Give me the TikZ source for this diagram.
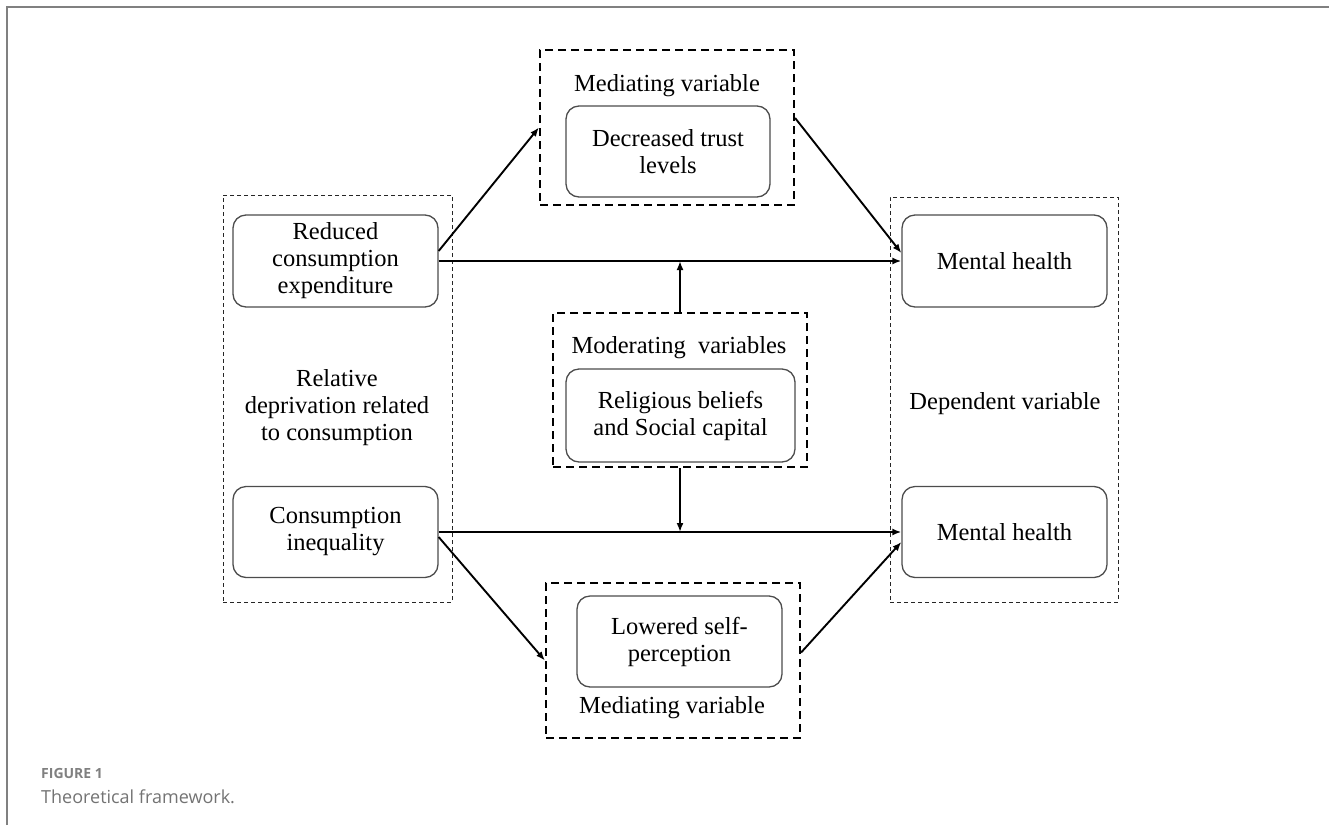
\documentclass[tikz,border=0pt]{standalone}
\usepackage{fontspec}
\setmainfont{Liberation Serif}
\newfontfamily\capfont{Open Sans}
\usetikzlibrary{arrows.meta}
\begin{document}
\begin{tikzpicture}[x=1pt,y=-1pt,
  box/.style={draw=black!70, line width=1.3pt, rounded corners=13pt, align=center, inner sep=0pt, font=\fontsize{24.5}{27}\selectfont},
  grp/.style={draw=black!85, dash pattern=on 4pt off 3pt, line width=1pt, inner sep=0pt},
  med/.style={draw=black, dash pattern=on 8pt off 5pt, line width=2.2pt, inner sep=0pt},
  lbl/.style={align=center, inner sep=0pt, font=\fontsize{24.5}{27}\selectfont},
  arr/.style={-{Latex[length=9pt,width=7pt]}, line width=1.9pt},
  captext/.style={anchor=base west, inner sep=0pt}
]
\useasboundingbox (0,0) rectangle (1329,825);
\draw[black!50, line width=2pt] (7,825) -- (7,7) -- (1329,7);

% group boxes
\node[grp, minimum width=229pt, minimum height=407pt] (lgrp) at (337.5,398.5) {};
\node[grp, minimum width=228pt, minimum height=405pt] (rgrp) at (1004,399.5) {};
\node[med, minimum width=254pt, minimum height=155pt] (topmed) at (667,127.5) {};
\node[med, minimum width=254pt, minimum height=154pt] (mod) at (680,390) {};
\node[med, minimum width=254pt, minimum height=155pt] (lowmed) at (673,660.5) {};

% inner boxes
\node[box, minimum width=205pt, minimum height=92pt] (rce) at (335.5,261) {Reduced\\consumption\\expenditure};
\node[box, minimum width=205pt, minimum height=91pt] (ci) at (335.5,532) {Consumption\\inequality};
\node[box, minimum width=205pt, minimum height=92pt] (mh1) at (1004.5,261) {Mental health};
\node[box, minimum width=205pt, minimum height=91pt] (mh2) at (1004.5,532) {Mental health};
\node[box, minimum width=204pt, minimum height=91pt] (dtl) at (668,151.5) {Decreased trust\\levels};
\node[box, minimum width=229pt, minimum height=93pt] (rel) at (680.5,415.5) {Religious beliefs\\and Social capital};
\node[box, minimum width=205pt, minimum height=91pt] (lsp) at (679.5,641.5) {Lowered self-\\perception};

% labels
\node[lbl] (l1) at (667,86) {Mediating variable};
\node[lbl] (l2) at (679,348) {Moderating\ \ variables};
\node[lbl] (l3) at (672,708) {Mediating variable};
\node[lbl] (l4) at (337,408) {Relative\\deprivation related\\to consumption};
\node[lbl] (l5) at (1005,404) {Dependent variable};

% connectors
\draw[arr] (rce.east) -- (mh1.west);
\draw[arr] (ci.east) -- (mh2.west);
\draw[arr] ([yshift=10pt]rce.east) -- (topmed.west);
\draw[arr] ([yshift=9.5pt]topmed.east) -- ([yshift=8pt]mh1.west);
\draw[arr] ([yshift=-5pt]ci.east) -- (lowmed.west);
\draw[arr] ([yshift=8pt]lowmed.east) -- ([yshift=-10pt]mh2.west);
\draw[arr] (mod.north) -- (mod.north |- rce.east);
\draw[arr] (mod.south) -- (mod.south |- ci.east);

% caption
\node[captext, text=black!50, font=\capfont\bfseries\fontsize{14}{16}\selectfont] (fig) at (41,778) {FIGURE 1};
\node[captext, text=black!55, font=\capfont\fontsize{18}{21}\selectfont] (tf) at (41,803) {Theoretical framework.};
\end{tikzpicture}
\end{document}
